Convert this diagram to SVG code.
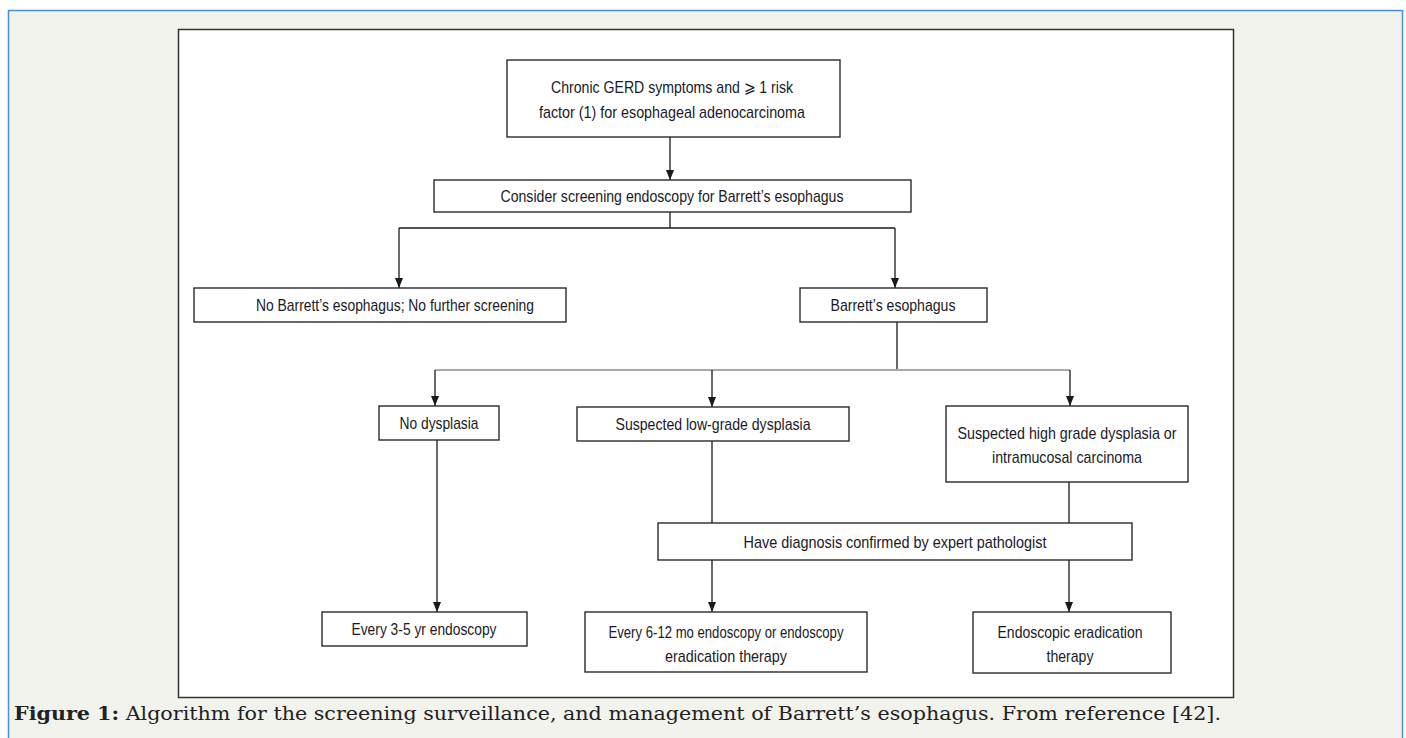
<svg xmlns="http://www.w3.org/2000/svg" width="1406" height="738" viewBox="0 0 1406 738">
<style>
.box{fill:#fff;stroke:#2a2a2a;stroke-width:1.4}
.t{font-family:"Liberation Sans",Arial,sans-serif;font-size:17px;fill:#1a1a28;text-anchor:middle;dominant-baseline:central}
.c{stroke:#1a1a1a;stroke-width:1.3;fill:none}
.g{stroke:#a8a8a8;stroke-width:2;fill:none}
.cap{font-family:"DejaVu Serif","Liberation Serif",serif;font-size:18px;fill:#222}
</style>
<defs>
<marker id="ah" markerUnits="userSpaceOnUse" markerWidth="10" markerHeight="8" refX="10" refY="4" orient="auto">
<path d="M0,0 L10,4 L0,8 z" fill="#1a1a1a"/>
</marker>
</defs>
<rect x="0" y="0" width="1406" height="738" fill="#fff"/>
<rect x="8.5" y="10.5" width="1394" height="760" fill="#f3f3ee" stroke="#4a8fe0" stroke-width="1.5"/>
<rect x="178.5" y="29.5" width="1055" height="668" fill="#fff" stroke="#333" stroke-width="1.5"/>

<g id="connectors">
<line class="c" x1="670" y1="137" x2="670" y2="180" marker-end="url(#ah)"/>
<polyline class="c" points="670,212 670,228"/>
<polyline class="c" points="399,228 895,228"/>
<line class="c" x1="399" y1="228" x2="399" y2="288" marker-end="url(#ah)"/>
<line class="c" x1="895" y1="228" x2="895" y2="288" marker-end="url(#ah)"/>
<line class="c" x1="897" y1="322" x2="897" y2="370"/>
<line class="g" x1="435" y1="370" x2="1070" y2="370"/>
<line class="c" x1="435" y1="370" x2="435" y2="406" marker-end="url(#ah)"/>
<line class="c" x1="712" y1="370" x2="712" y2="407" marker-end="url(#ah)"/>
<line class="c" x1="1070" y1="370" x2="1070" y2="406" marker-end="url(#ah)"/>
<line class="c" x1="437" y1="440" x2="437" y2="612" marker-end="url(#ah)"/>
<line class="c" x1="712" y1="441" x2="712" y2="523"/>
<line class="c" x1="1069" y1="482" x2="1069" y2="523"/>
<line class="c" x1="712" y1="560" x2="712" y2="612" marker-end="url(#ah)"/>
<line class="c" x1="1069" y1="560" x2="1069" y2="612" marker-end="url(#ah)"/>
</g>

<g id="n1">
<rect class="box" x="507" y="60" width="333" height="77"/>
<text class="t" x="672" y="87" textLength="242" lengthAdjust="spacingAndGlyphs">Chronic GERD symptoms and ⩾ 1 risk</text>
<text class="t" x="672" y="112" textLength="266" lengthAdjust="spacingAndGlyphs">factor (1) for esophageal adenocarcinoma</text>
</g>
<g id="n2">
<rect class="box" x="434" y="180" width="477" height="32"/>
<text class="t" x="672" y="196" textLength="343" lengthAdjust="spacingAndGlyphs">Consider screening endoscopy for Barrett’s esophagus</text>
</g>
<g id="n3">
<rect class="box" x="194" y="288" width="372" height="34"/>
<text class="t" x="395" y="305" textLength="278" lengthAdjust="spacingAndGlyphs">No Barrett’s esophagus; No further screening</text>
</g>
<g id="n4">
<rect class="box" x="800" y="288" width="187" height="34"/>
<text class="t" x="893" y="305" textLength="125" lengthAdjust="spacingAndGlyphs">Barrett’s esophagus</text>
</g>
<g id="n5">
<rect class="box" x="379" y="406" width="120" height="34"/>
<text class="t" x="439" y="423" textLength="79" lengthAdjust="spacingAndGlyphs">No dysplasia</text>
</g>
<g id="n6">
<rect class="box" x="577" y="407" width="272" height="34"/>
<text class="t" x="713" y="424" textLength="195" lengthAdjust="spacingAndGlyphs">Suspected low-grade dysplasia</text>
</g>
<g id="n7">
<rect class="box" x="946" y="406" width="242" height="76"/>
<text class="t" x="1067" y="433" textLength="219" lengthAdjust="spacingAndGlyphs">Suspected high grade dysplasia or</text>
<text class="t" x="1067" y="457" textLength="150" lengthAdjust="spacingAndGlyphs">intramucosal carcinoma</text>
</g>
<g id="n8">
<rect class="box" x="658" y="523" width="474" height="37"/>
<text class="t" x="895" y="542" textLength="303" lengthAdjust="spacingAndGlyphs">Have diagnosis confirmed by expert pathologist</text>
</g>
<g id="n9">
<rect class="box" x="322" y="612" width="205" height="34"/>
<text class="t" x="424" y="629" textLength="145" lengthAdjust="spacingAndGlyphs">Every 3-5 yr endoscopy</text>
</g>
<g id="n10">
<rect class="box" x="585" y="612" width="282" height="60"/>
<text class="t" x="726" y="632" textLength="235" lengthAdjust="spacingAndGlyphs">Every 6-12 mo endoscopy or endoscopy</text>
<text class="t" x="726" y="656" textLength="122" lengthAdjust="spacingAndGlyphs">eradication therapy</text>
</g>
<g id="n11">
<rect class="box" x="973" y="612" width="198" height="61"/>
<text class="t" x="1070" y="632" textLength="145" lengthAdjust="spacingAndGlyphs">Endoscopic eradication</text>
<text class="t" x="1070" y="656" textLength="47" lengthAdjust="spacingAndGlyphs">therapy</text>
</g>

<text class="cap" x="14" y="720" textLength="1207" lengthAdjust="spacingAndGlyphs"><tspan font-weight="bold">Figure 1:</tspan> Algorithm for the screening surveillance, and management of Barrett’s esophagus. From reference [42].</text>
</svg>
